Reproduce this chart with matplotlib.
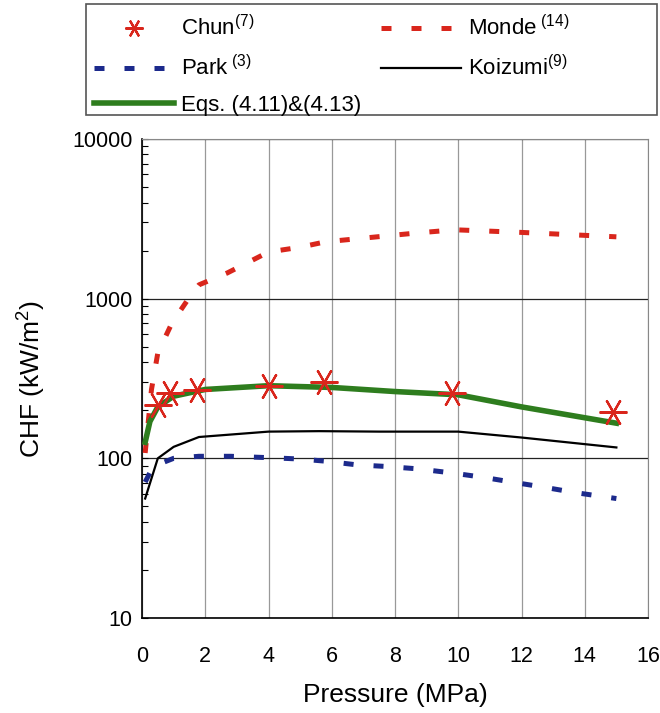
import matplotlib
matplotlib.use("Agg")
import matplotlib.pyplot as plt
from matplotlib.ticker import LogLocator, NullFormatter
from matplotlib.patches import Rectangle

plt.rcParams['font.family'] = ['Liberation Sans', 'DejaVu Sans']
plt.rcParams['mathtext.fontset'] = 'custom'
plt.rcParams['mathtext.rm'] = 'Liberation Sans'
plt.rcParams['mathtext.it'] = 'Liberation Sans'

# Data (pressure MPa, CHF kW/m2)
chun_p = [0.5, 0.9, 1.75, 4.0, 5.75, 9.8, 14.9]
chun_q = [216, 257, 269, 285, 301, 257, 196]

monde_p = [0.1, 0.3, 0.5, 0.95, 1.5, 1.8, 2.7, 4.0, 5.0, 5.8, 8.7, 9.9, 12.0, 15.0]
monde_q = [108, 270, 457, 706, 1020, 1220, 1450, 1960, 2100, 2270, 2580, 2700, 2600, 2440]

park_p = [0.1, 0.35, 1.0, 1.8, 2.8, 4.0, 5.0, 5.8, 6.8, 7.7, 8.7, 9.8, 10.8, 11.7, 12.7, 13.7, 15.0]
park_q = [71, 89, 100, 103, 103, 101, 99, 96, 91, 89, 86, 81, 76, 71, 66, 61, 56]

koizumi_p = [0.1, 0.5, 1.0, 1.8, 4.0, 5.6, 7.5, 10.0, 12.0, 15.0]
koizumi_q = [56, 100, 118, 136, 147, 148, 147, 147, 135, 117]

eqs_p = [0.1, 0.25, 0.5, 1.0, 2.0, 4.0, 6.0, 8.0, 10.0, 12.0, 15.0]
eqs_q = [126, 170, 210, 245, 270, 285, 278, 262, 250, 210, 166]

xticks = [0, 2, 4, 6, 8, 10, 12, 14, 16]
yticks = [10, 100, 1000, 10000]

W, H = 660, 713
fig = plt.figure(figsize=(W/100, H/100), dpi=100)
ax = fig.add_axes([142/W, 1-618/H, (648-142)/W, (618-139)/H])

red = '#d9261c'
blue = '#1c2a8c'
green = '#2e7d1e'

ax.plot(monde_p, monde_q, color=red, lw=3.6, dashes=(2.0, 4.0), label='Monde$^{\\ (14)}$', zorder=3)
ax.plot(park_p, park_q, color=blue, lw=3.6, dashes=(2.0, 4.0), label='Park$^{\\ (3)}$', zorder=3)
ax.plot(koizumi_p, koizumi_q, color='black', lw=1.6, label='Koizumi$^{(9)}$', zorder=3)
ax.plot(eqs_p, eqs_q, color=green, lw=4, label='Eqs. (4.11)&(4.13)', zorder=4)
ax.plot(chun_p, chun_q, ls='none', marker=(6, 2, 90), ms=20, mew=1.6, color=red,
        label='Chun$^{(7)}$', zorder=5)

ax.set_yscale('log')
ax.set_xlim(0, 16)
ax.set_ylim(10, 10000)
ax.set_xticks(xticks)
ax.set_yticks(yticks)
ax.set_yticklabels([str(v) for v in yticks])
ax.yaxis.set_minor_locator(LogLocator(base=10, subs=range(2, 10)))
ax.yaxis.set_minor_formatter(NullFormatter())
ax.tick_params(axis='both', which='major', labelsize=15.5, direction='in', length=4)
ax.tick_params(axis='y', which='major', pad=7)
ax.tick_params(axis='y', which='minor', direction='in', length=4, width=0.8)
ax.tick_params(axis='x', which='major', length=0, pad=20)

ax.grid(True, axis='x', which='major', color='#999999', lw=0.9)
ax.grid(True, axis='y', which='major', color='#222222', lw=0.9)
for s in ['top', 'right']:
    ax.spines[s].set_color('#888888')
for s in ['left', 'bottom']:
    ax.spines[s].set_color('black')
    ax.spines[s].set_linewidth(1.2)

ax.set_xlabel('Pressure (MPa)', fontsize=19, labelpad=12)
ax.set_ylabel('CHF (kW/m$^2$)', fontsize=19, labelpad=17)

# legend frame
fig.patches.append(Rectangle((86/W, 1-115/H), 571/W, 111/H, transform=fig.transFigure,
                             fill=False, edgecolor='#555555', lw=1.2))

handles, labels = ax.get_legend_handles_labels()
order = [4, 1, 3, 0, 2]
leg = fig.legend([handles[i] for i in order], [labels[i] for i in order],
                 loc='upper left', bbox_to_anchor=(90/W, 1-11/H),
                 ncol=2, fontsize=16, frameon=False,
                 handlelength=3.6, handletextpad=0.3, columnspacing=0.9,
                 labelspacing=0.65, borderpad=0.2, borderaxespad=0)
leg.legend_handles[0].set_markersize(13)

fig.savefig('out.png', dpi=100)
